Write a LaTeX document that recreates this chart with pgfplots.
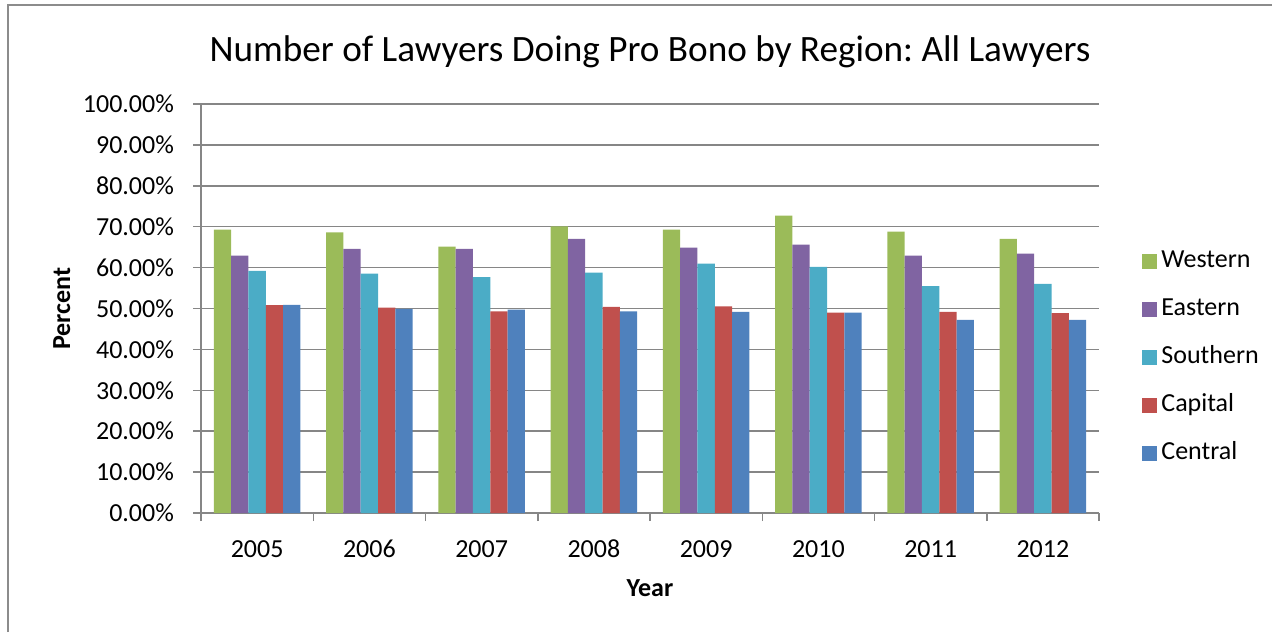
\documentclass[border=0pt]{standalone}
\usepackage{pgfplots}
\pgfplotsset{compat=1.18}
\usepackage{fontspec}
\setmainfont{Carlito}
\frenchspacing
\definecolor{cWest}{HTML}{9BBB59}
\definecolor{cEast}{HTML}{8064A2}
\definecolor{cSouth}{HTML}{4BACC6}
\definecolor{cCap}{HTML}{C0504D}
\definecolor{cCen}{HTML}{4F81BD}
\definecolor{gridgray}{HTML}{868686}
\definecolor{bordergray}{HTML}{8C8C8C}
\begin{document}
\begin{tikzpicture}
\path[use as bounding box] (0,0) rectangle (636pt,316pt);
\draw[bordergray, line width=1.2pt] (4pt,0) -- (4pt,313.5pt) -- (636pt,313.5pt);
\begin{axis}[
  at={(100.5pt,59.5pt)}, anchor=south west,
  scale only axis, width=449pt, height=204.5pt,
  ybar=0pt, bar width=8.65pt,
  xmin=-0.5, xmax=7.5, ymin=0, ymax=100,
  xtick={0,...,7},
  xticklabels={2005,2006,2007,2008,2009,2010,2011,2012},
  minor xtick={-0.5,0.5,...,7.5},
  major x tick style={draw=none},
  ytick={0,10,...,100},
  yticklabel={\pgfmathprintnumber[fixed,fixed zerofill,precision=2]{\tick}\%},
  /pgf/number format/assume math mode=true,
  tick align=outside,
  major tick length=4pt, minor tick length=4pt,
  tick style={gridgray, line width=0.75pt},
  axis lines*=left,
  axis line style={gridgray, line width=0.75pt},
  ymajorgrids, grid style={gridgray, line width=0.75pt},
  tick label style={font=\fontsize{13}{15}\selectfont, text=black},
  yticklabel style={xshift=-6pt},
  xticklabel style={anchor=center, text height=9pt, text depth=0pt, inner sep=0pt, yshift=-13.5pt},
  title={Number of Lawyers Doing Pro Bono by Region: All Lawyers},
  title style={at={(axis description cs:0.5,1.132)}, anchor=center, yshift=-7pt, font=\fontsize{18.6}{22}\selectfont},
  xlabel={Year},
  xlabel style={at={(axis description cs:0.5,-0.183)}, anchor=center, font=\bfseries\fontsize{13}{15}\selectfont},
  ylabel={Percent},
  ylabel style={at={(axis description cs:-0.155,0.5)}, anchor=center, font=\bfseries\fontsize{13}{15}\selectfont},
  legend style={at={(1,0.386)}, anchor=west, xshift=18.5pt, yshift=-1pt, draw=none, fill=none,
    font=\fontsize{13}{15}\selectfont, row sep=12pt,
    nodes={inner sep=0pt, text height=9pt, text depth=3pt}},
  legend cell align=left,
  legend image code/.code={\fill[#1] (0pt,-3.75pt) rectangle (7.5pt,3.75pt); \path (9.5pt,0pt);},
]
\addplot[fill=cWest, draw=none] coordinates {(0,69.3) (1,68.6) (2,65.1) (3,70.1) (4,69.3) (5,72.7) (6,68.8) (7,67.0)};
\addplot[fill=cEast, draw=none] coordinates {(0,62.9) (1,64.6) (2,64.6) (3,67.0) (4,64.9) (5,65.6) (6,62.9) (7,63.4)};
\addplot[fill=cSouth, draw=none] coordinates {(0,59.2) (1,58.5) (2,57.7) (3,58.8) (4,61.0) (5,60.2) (6,55.5) (7,56.0)};
\addplot[fill=cCap, draw=none] coordinates {(0,50.8) (1,50.2) (2,49.3) (3,50.4) (4,50.5) (5,49.0) (6,49.2) (7,48.9)};
\addplot[fill=cCen, draw=none] coordinates {(0,50.9) (1,49.9) (2,49.7) (3,49.3) (4,49.2) (5,49.0) (6,47.2) (7,47.2)};
\legend{Western,Eastern,Southern,Capital,Central}
\end{axis}
\end{tikzpicture}
\end{document}
